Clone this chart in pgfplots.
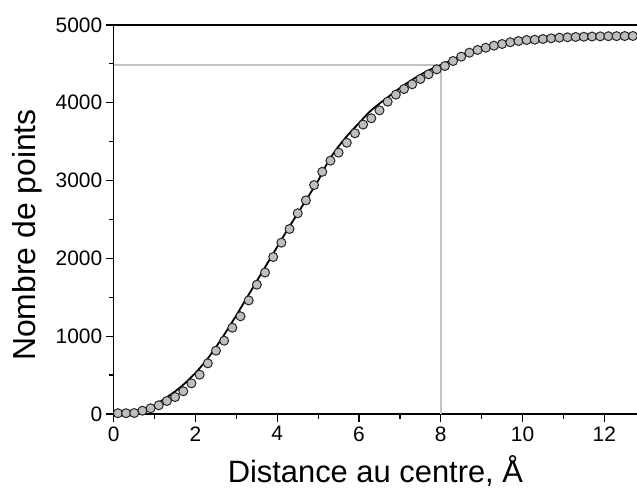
\documentclass[border=0pt]{standalone}
\usepackage{pgfplots}
\pgfplotsset{compat=1.18}
\usepackage{fontspec}
\setmainfont{Liberation Sans}
\definecolor{refgray}{RGB}{195,195,195}
\definecolor{markgray}{RGB}{190,190,190}
\begin{document}
\begin{tikzpicture}
\begin{axis}[
  at={(0,0)}, anchor=south west,
  scale only axis, width=523.2bp, height=389bp,
  xmin=0, xmax=12.8, ymin=0, ymax=5000,
  axis lines=left, axis line style={-, line width=1.3bp},
  xtick={0,2,...,12}, ytick={0,1000,...,5000},
  minor xtick={1,3,...,11}, minor ytick={500,1500,...,4500},
  ytick align=outside, xtick align=outside,
  major tick length=8bp, minor tick length=4.5bp,
  tick style={line width=1.2bp, black},
  /pgf/number format/assume math mode=true,
  /pgf/number format/1000 sep={},
  ticklabel style={font=\fontsize{21}{24}\selectfont},
  xticklabel style={yshift=-1bp},
  xlabel={Distance au centre, Å},
  ylabel={Nombre de points},
  xlabel style={font=\fontsize{31}{36}\selectfont, at={(axis description cs:0.5,0)}, anchor=base, yshift=-68bp},
  ylabel style={font=\fontsize{32}{36}\selectfont, at={(axis description cs:0,0.46)}, anchor=base, yshift=78bp},
  clip=false,
]
\addplot[refgray, line width=2bp] coordinates {(0,4490) (8,4490) (8,0)};
\addplot[only marks, mark=*, mark size=4.5bp, mark options={fill=markgray, draw=black!85, line width=1bp}] coordinates {
(0.1,10) (0.3,10) (0.5,13) (0.7,42) (0.9,73) (1.1,112) (1.3,167) (1.5,218) (1.7,292) (1.9,394)
(2.1,505) (2.3,651) (2.5,814) (2.7,942) (2.9,1109) (3.1,1256) (3.3,1460) (3.5,1662) (3.7,1818) (3.9,2018)
(4.1,2202) (4.3,2378) (4.5,2580) (4.7,2746) (4.9,2943) (5.1,3113) (5.3,3256) (5.5,3359) (5.7,3487) (5.9,3608)
(6.1,3720) (6.3,3801) (6.5,3903) (6.7,4014) (6.9,4105) (7.1,4177) (7.3,4238) (7.5,4306) (7.7,4366) (7.9,4430)
(8.1,4473) (8.3,4537) (8.5,4593) (8.7,4644) (8.9,4679) (9.1,4708) (9.3,4734) (9.5,4756) (9.7,4778) (9.9,4794)
(10.1,4807) (10.3,4811) (10.5,4820) (10.7,4829) (10.9,4837) (11.1,4842) (11.3,4846) (11.5,4849) (11.7,4852) (11.9,4854)
(12.1,4856) (12.3,4857) (12.5,4858) (12.7,4859)
};
\addplot[black, line width=1.8bp, smooth] coordinates {
(0.55,0) (0.75,30) (1.0,110) (1.25,200) (1.5,290) (1.75,400) (2.0,530) (2.25,680) (2.5,860) (2.75,1060)
(3.0,1270) (3.25,1490) (3.5,1710) (3.75,1930) (4.0,2150) (4.25,2370) (4.5,2580) (4.75,2790) (5.0,3000)
(5.25,3250) (5.5,3440) (5.75,3600) (6.0,3740) (6.25,3880) (6.5,3990) (6.75,4090) (7.0,4190) (7.25,4280)
(7.5,4360) (7.75,4430) (8.0,4485) (8.25,4545) (8.5,4610) (8.75,4665) (9.0,4710) (9.25,4740) (9.5,4765)
(9.75,4785) (10.0,4800) (10.5,4822) (11.0,4838) (11.5,4848) (12.0,4854) (12.5,4858) (12.8,4860)
};
\draw[line width=1.3bp] (rel axis cs:0,1) -- (rel axis cs:1,1);
\end{axis}
\pgfresetboundingbox
\path[use as bounding box] (-113.8bp,-77bp) rectangle (523.2bp,414bp);
\end{tikzpicture}
\end{document}
